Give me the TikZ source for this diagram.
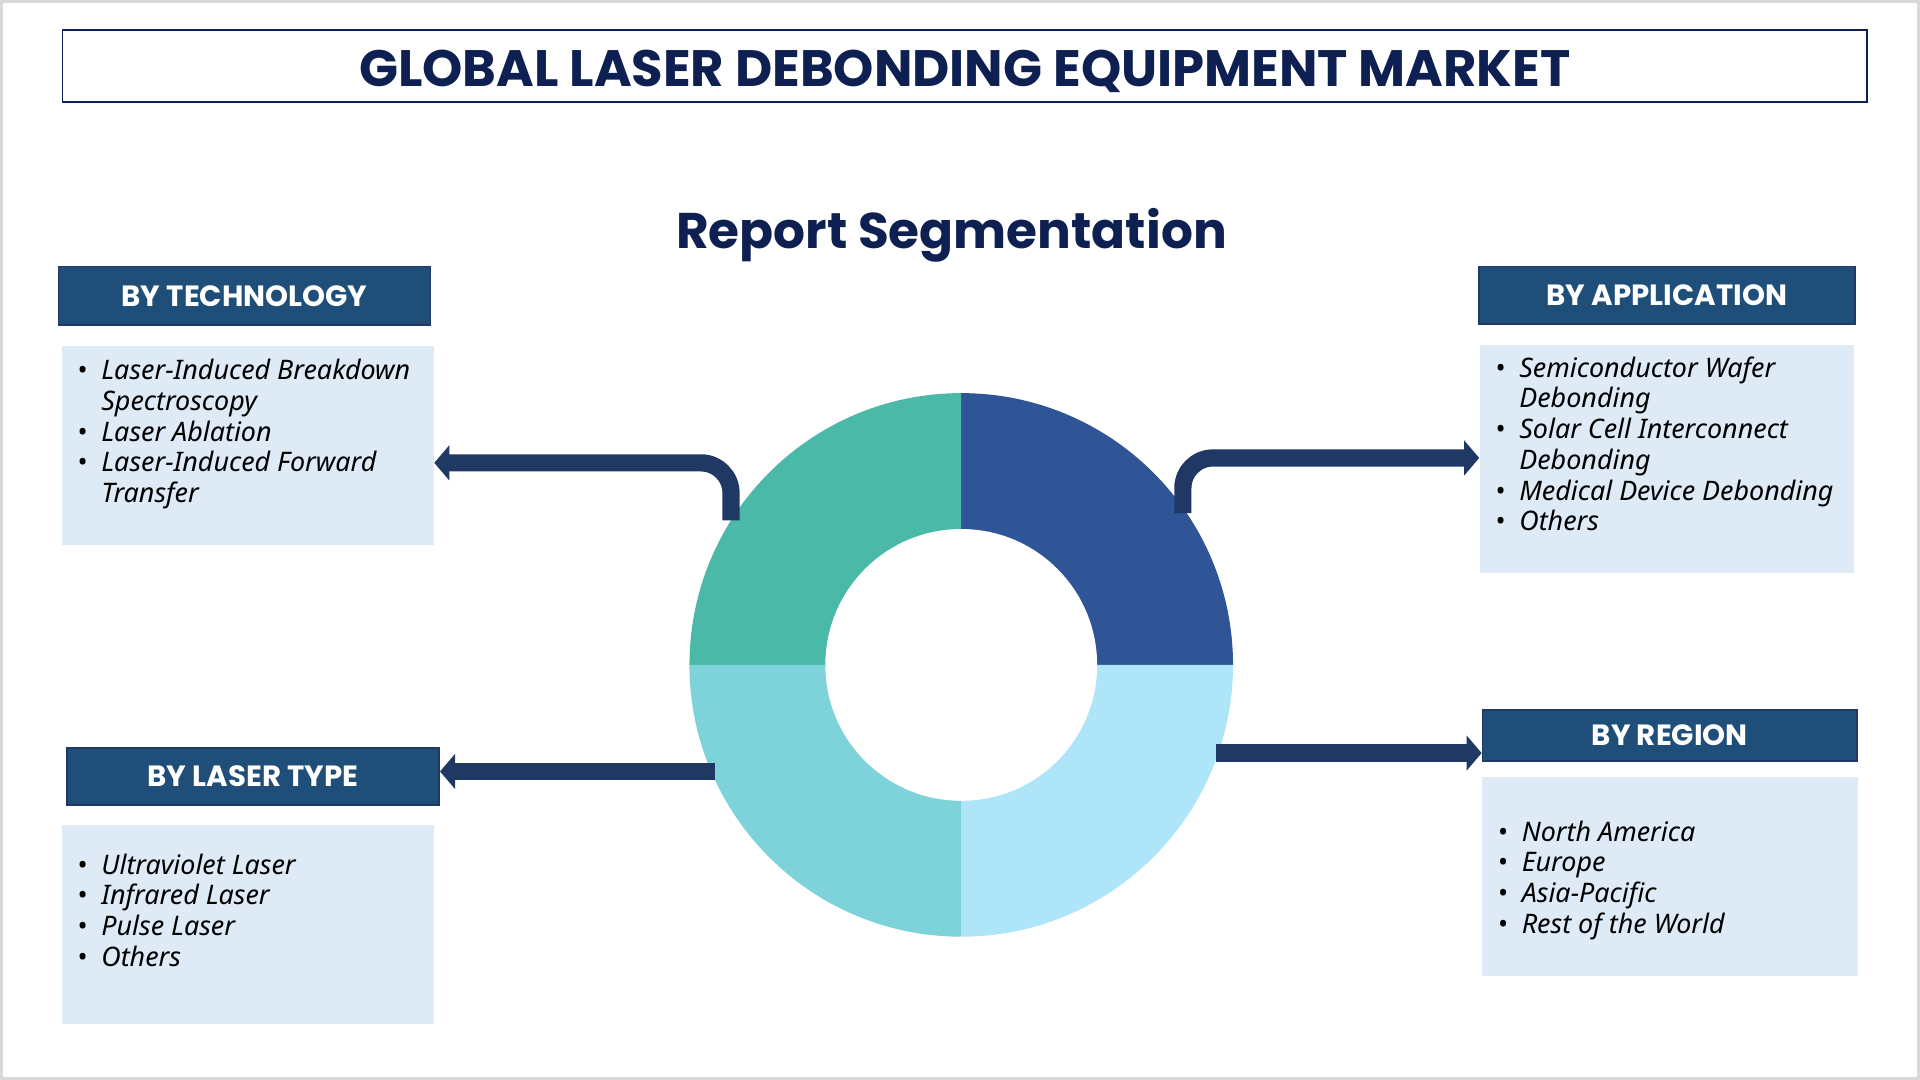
\documentclass[tikz,border=0pt]{standalone}
\usepackage{fontspec}
\setmainfont{Noto Sans}
\newfontfamily\headfont{Poppins}
\usetikzlibrary{arrows.meta}
\definecolor{navy}{HTML}{0E1F52}
\definecolor{hdrblue}{HTML}{1F4E79}
\definecolor{boxblue}{HTML}{DEEAF6}
\definecolor{arrnavy}{HTML}{1F3864}
\definecolor{qA}{HTML}{2F5597}
\definecolor{qB}{HTML}{4AB9A8}
\definecolor{qC}{HTML}{7DD3D9}
\definecolor{qD}{HTML}{AEE5F8}
\tikzset{>=latex,
  hdr/.style={draw=arrnavy, line width=0.8pt, fill=hdrblue, text=white, font=\headfont\bfseries\fontsize{13.6}{16}\selectfont, anchor=north west},
  listbox/.style={fill=boxblue, anchor=north west, inner sep=0pt},
  listtxt/.style={anchor=north west, align=left, font=\fontsize{12.5}{14.3}\selectfont},
  seg/.style={line width=8pt, draw=arrnavy, rounded corners=14pt, -{Triangle[width=16pt,length=7pt]}},
}
\newcommand{\itm}[1]{\makebox[14pt][l]{\hspace{3pt}\textbullet}\textit{#1}\\}
\newcommand{\itc}[1]{\hspace*{14pt}\textit{#1}\\}
\begin{document}
\begin{tikzpicture}[x=0.02cm,y=-0.02cm]
    \useasboundingbox (0,0) rectangle (1568,882);
    \draw[color=black!15, line width=1.5pt] (1,1) rectangle (1567,881);
    \node[draw=navy, line width=0.8pt, minimum width=29.48cm, minimum height=1.18cm, text=navy] (title) at (788,54) {};
    \node[font=\headfont\bfseries\fontsize{23.8}{28}\selectfont, text=navy] (titletxt) at (788,58) {GLOBAL LASER DEBONDING EQUIPMENT MARKET};
    \node[font=\headfont\bfseries\fontsize{23.3}{28}\selectfont, text=navy] (report) at (777,192) {Report Segmentation};

    % donut
    \coordinate (c) at (785,543);
    \fill[qA] (c) -- ++(0:4.44cm) arc[start angle=0, end angle=90, radius=4.44cm] -- cycle;
    \fill[qB] (c) -- ++(90:4.44cm) arc[start angle=90, end angle=180, radius=4.44cm] -- cycle;
    \fill[qC] (c) -- ++(180:4.44cm) arc[start angle=180, end angle=270, radius=4.44cm] -- cycle;
    \fill[qD] (c) -- ++(270:4.44cm) arc[start angle=270, end angle=360, radius=4.44cm] -- cycle;
    \fill[white] (c) circle[radius=2.22cm];

    % headers
    \node[hdr, minimum width=6.08cm, minimum height=0.96cm] (tech) at (47,217) {BY TECHNOLOGY};
    \node[hdr, minimum width=6.14cm, minimum height=0.94cm] (app) at (1207,217) {BY APPLICATION};
    \node[hdr, minimum width=6.08cm, minimum height=0.94cm] (ltype) at (54,610) {BY LASER TYPE};
    \node[hdr, minimum width=6.12cm, minimum height=0.84cm] (region) at (1210,579) {BY REGION};

    % lists
    \node[listbox, minimum width=6.08cm, minimum height=3.26cm] (techbox) at (50,282) {};
    \node[listtxt] (techtxt) at (52,287) {%
      \itm{Laser-Induced Breakdown}\itc{Spectroscopy}\itm{Laser Ablation}\itm{Laser-Induced Forward}\itc{Transfer}};
    \node[listbox, minimum width=6.12cm, minimum height=3.74cm] (appbox) at (1208,281) {};
    \node[listtxt] (apptxt) at (1210,285) {%
      \itm{Semiconductor Wafer}\itc{Debonding}\itm{Solar Cell Interconnect}\itc{Debonding}\itm{Medical Device Debonding}\itm{Others}};
    \node[listbox, minimum width=6.08cm, minimum height=3.26cm] (ltypebox) at (50,673) {};
    \node[listtxt] (ltypetxt) at (52,691) {%
      \itm{Ultraviolet Laser}\itm{Infrared Laser}\itm{Pulse Laser}\itm{Others}};
    \node[listbox, minimum width=6.14cm, minimum height=3.26cm] (regionbox) at (1210,634) {};
    \node[listtxt] (regiontxt) at (1212,664) {%
      \itm{North America}\itm{Europe}\itm{Asia-Pacific}\itm{Rest of the World}};

    % connectors
    \coordinate (tl) at (597,425);
    \coordinate (tr) at (966,419);
    \coordinate (bl) at (584,630);
    \coordinate (br) at (993,615);
    \draw[seg] (tl) -- (597,378) -- (techbox.east |- 0,378);
    \draw[seg] (tr) -- (966,374) -- (appbox.west |- 0,374);
    \draw[seg] (bl) -- (ltype.east |- bl);
    \draw[seg] (br) -- (regionbox.west |- br);
\end{tikzpicture}
\end{document}
